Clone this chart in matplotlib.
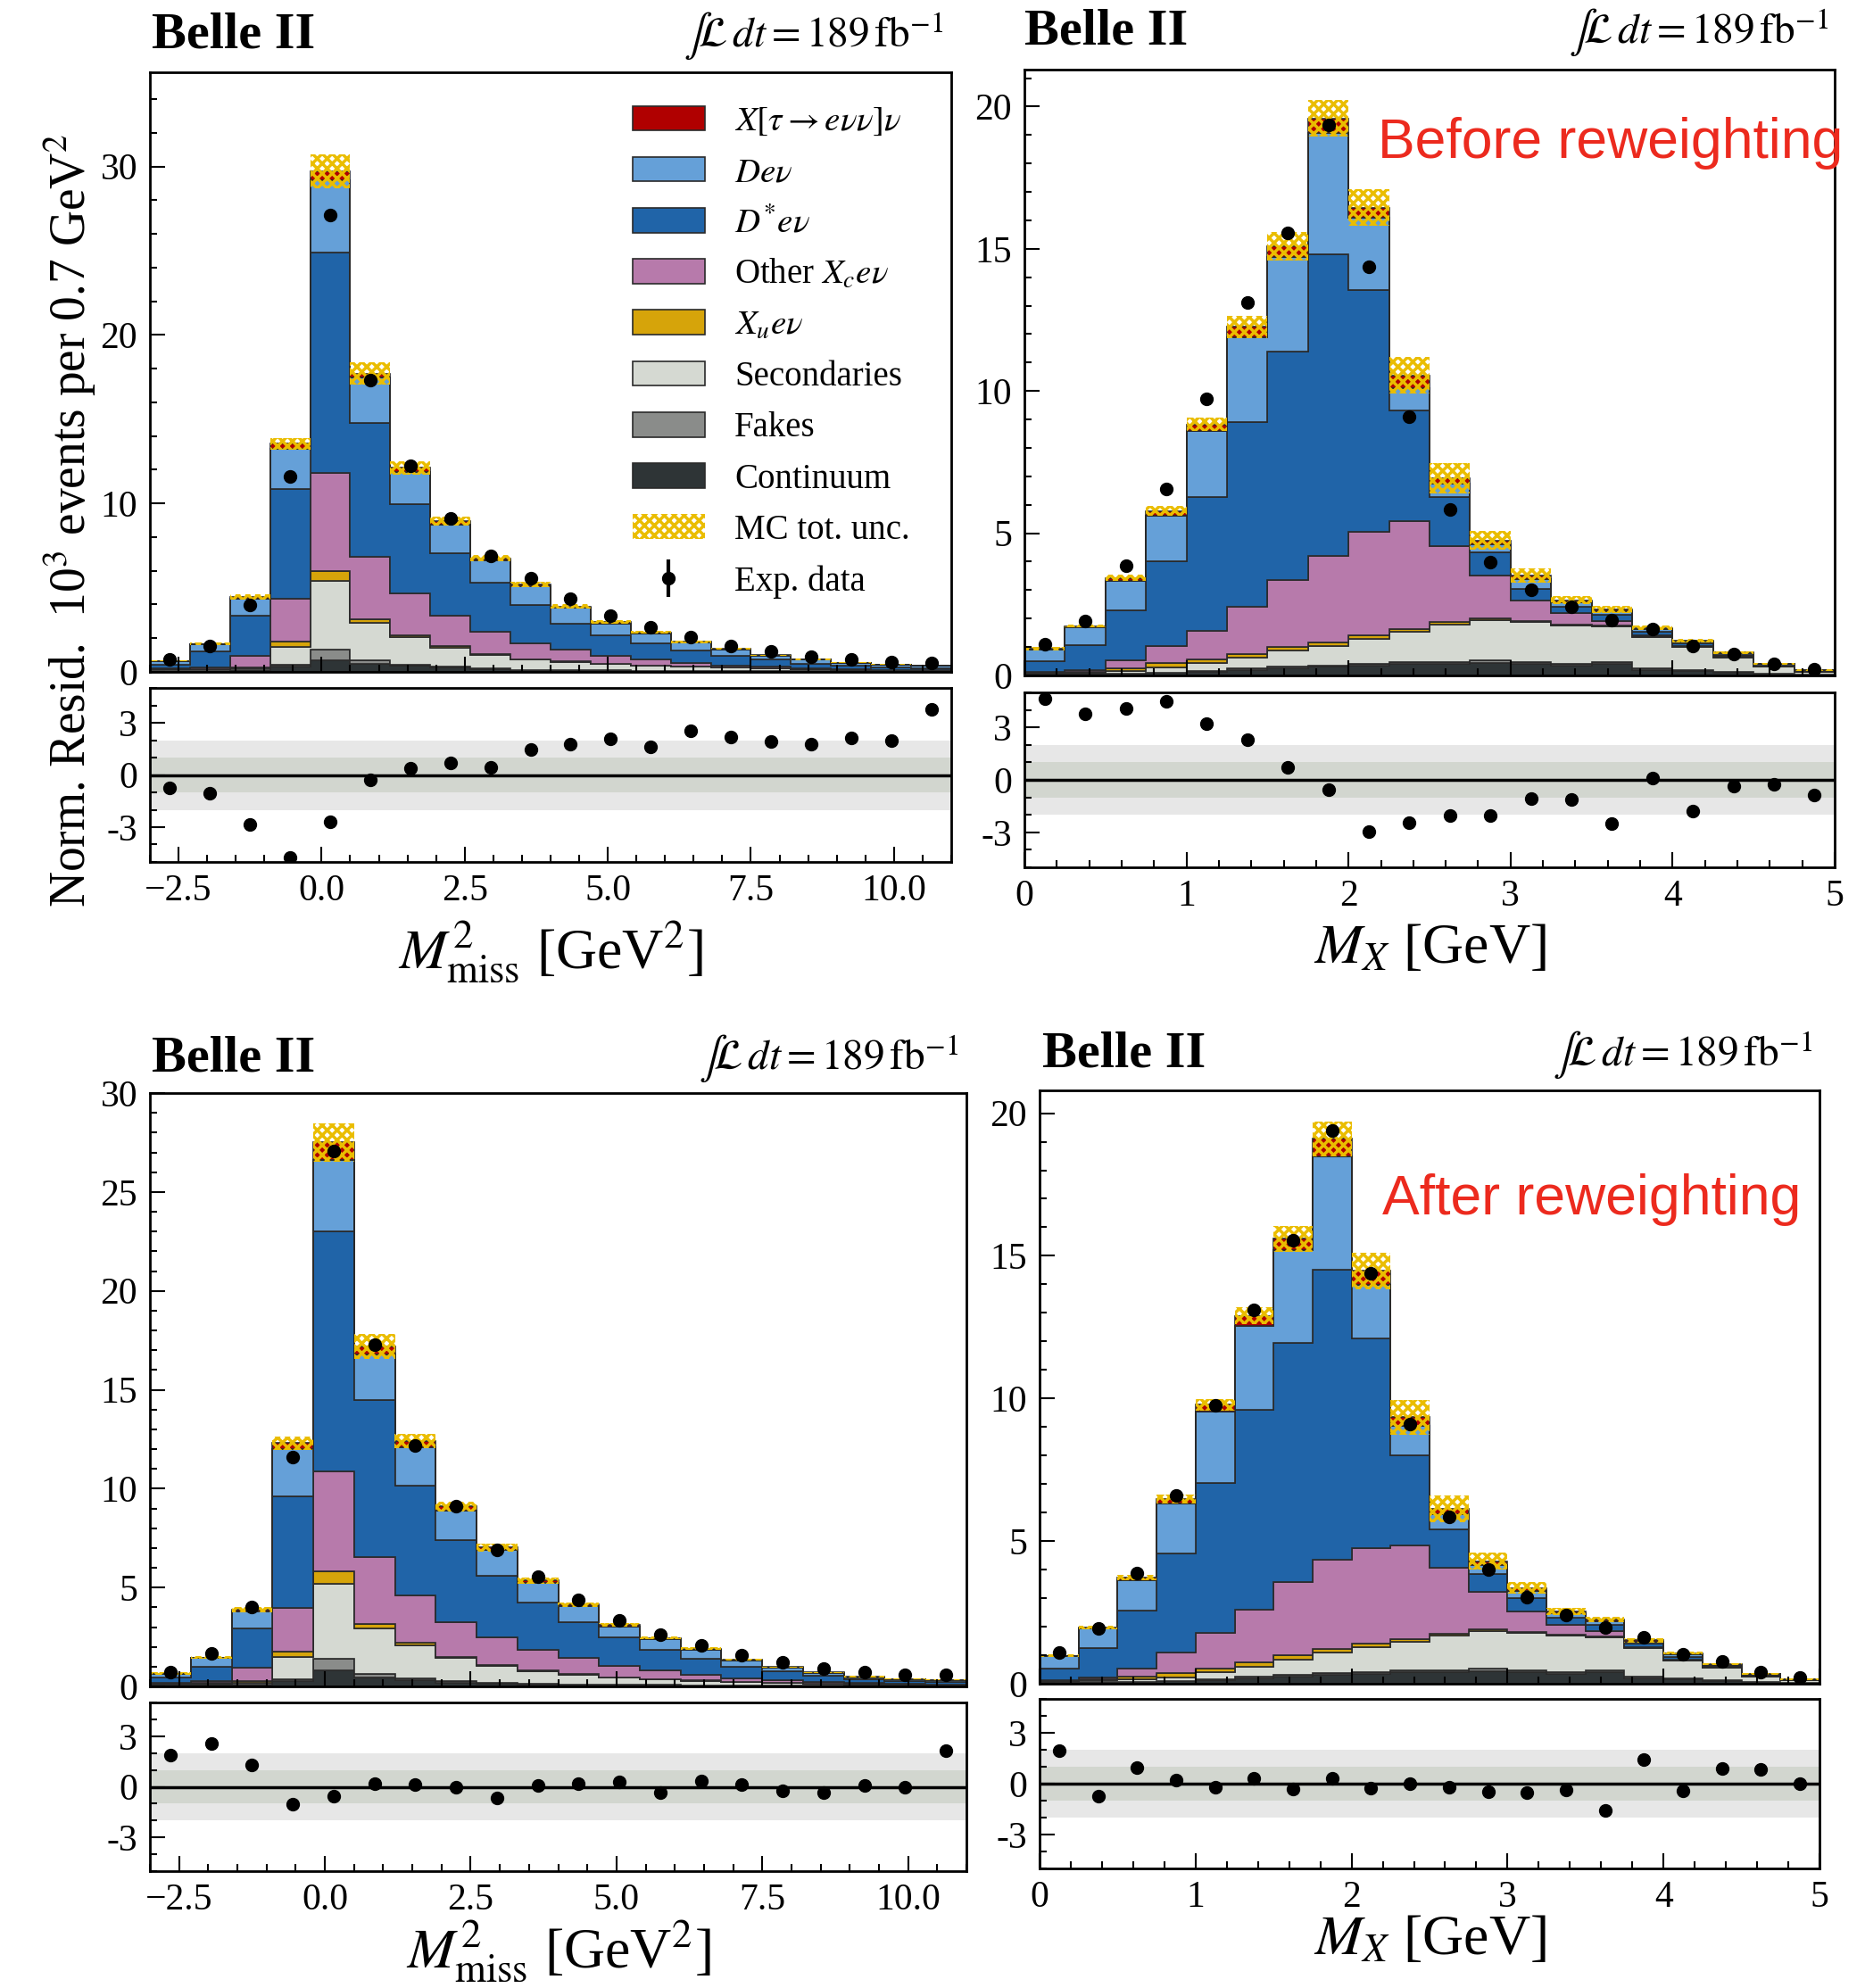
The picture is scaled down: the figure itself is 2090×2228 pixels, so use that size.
import numpy as np
import matplotlib
matplotlib.use("Agg")
import matplotlib.pyplot as plt
from matplotlib.patches import Patch
from matplotlib.lines import Line2D
from matplotlib.ticker import MultipleLocator, FixedLocator, FixedFormatter

plt.rcParams['font.family'] = ['Liberation Serif', 'DejaVu Serif']
plt.rcParams['mathtext.fontset'] = 'stix'
plt.rcParams['hatch.linewidth'] = 2.5

# binning
mm2_edges = np.round(np.linspace(-3.0, 11.0, 21), 2)
mx_edges = np.round(np.linspace(0.0, 5.0, 21), 2)

# ---- M2miss, before reweighting (10^3 events per bin)
cont_a = [0.05, 0.05, 0.05, 0.30, 0.70, 0.50, 0.35, 0.25, 0.15, 0.10, 0.08, 0.06, 0.05, 0.04, 0.03, 0.03, 0.02, 0.02, 0.02, 0.02]
fake_a = [0.02, 0.02, 0.03, 0.10, 0.60, 0.20, 0.10, 0.06, 0.04, 0.03, 0.02, 0.02, 0.02, 0.01, 0.01, 0.01, 0.01, 0.01, 0.01, 0.01]
sec_a = [0.08, 0.08, 0.12, 1.09, 4.10, 2.23, 1.59, 1.13, 0.81, 0.59, 0.50, 0.40, 0.29, 0.25, 0.20, 0.16, 0.12, 0.09, 0.07, 0.05]
xu_a = [0.02, 0.02, 0.05, 0.30, 0.60, 0.20, 0.12, 0.08, 0.05, 0.04, 0.03, 0.02, 0.02, 0.02, 0.01, 0.01, 0.01, 0.01, 0.01, 0.01]
oxc_a = [0.03, 0.07, 0.71, 2.53, 5.80, 3.70, 2.52, 1.84, 1.35, 0.92, 0.69, 0.46, 0.34, 0.21, 0.11, 0.09, 0.06, 0.04, 0.02, 0.01]
dst_a = [0.25, 0.96, 2.40, 6.54, 13.10, 7.97, 5.27, 3.71, 2.92, 2.28, 1.56, 1.20, 0.96, 0.72, 0.60, 0.42, 0.26, 0.19, 0.16, 0.12]
d_a = [0.20, 0.43, 1.00, 2.38, 4.30, 2.70, 1.92, 1.68, 1.28, 1.12, 0.91, 0.72, 0.60, 0.48, 0.36, 0.24, 0.24, 0.17, 0.14, 0.14]
tau_a = [0.01, 0.03, 0.10, 0.30, 0.50, 0.20, 0.25, 0.20, 0.15, 0.12, 0.10, 0.08, 0.06, 0.05, 0.04, 0.03, 0.02, 0.02, 0.01, 0.01]
unc_a = [0.05, 0.08, 0.15, 0.36, 1.00, 0.66, 0.40, 0.25, 0.20, 0.15, 0.12, 0.10, 0.08, 0.06, 0.05, 0.04, 0.03, 0.03, 0.02, 0.02]
data_a = [0.72, 1.56, 3.96, 11.58, 27.1, 17.3, 12.23, 9.10, 6.88, 5.56, 4.32, 3.36, 2.64, 2.04, 1.56, 1.20, 0.89, 0.72, 0.60, 0.53]
resid_a = [-0.73, -1.03, -2.85, -4.75, -2.68, -0.30, 0.37, 0.71, 0.46, 1.47, 1.76, 2.10, 1.63, 2.53, 2.20, 1.93, 1.76, 2.15, 1.98, 3.76]

# ---- M_X, before reweighting
cont_b = [0.05, 0.05, 0.06, 0.08, 0.12, 0.20, 0.25, 0.30, 0.35, 0.40, 0.40, 0.45, 0.40, 0.35, 0.40, 0.20, 0.15, 0.10, 0.05, 0.03]
fake_b = [0.01, 0.01, 0.01, 0.02, 0.03, 0.04, 0.05, 0.06, 0.07, 0.08, 0.08, 0.08, 0.08, 0.07, 0.07, 0.05, 0.04, 0.03, 0.02, 0.01]
sec_b = [0.04, 0.04, 0.08, 0.18, 0.28, 0.40, 0.58, 0.66, 0.86, 1.05, 1.32, 1.42, 1.39, 1.35, 1.26, 1.10, 0.80, 0.51, 0.24, 0.10]
xu_b = [0.02, 0.04, 0.11, 0.15, 0.14, 0.11, 0.11, 0.14, 0.14, 0.10, 0.08, 0.05, 0.03, 0.03, 0.02, 0.02, 0.01, 0.01, 0.01, 0.01]
oxc_b = [0.02, 0.06, 0.28, 0.59, 0.99, 1.66, 2.37, 3.05, 3.64, 3.80, 2.66, 1.50, 0.72, 0.40, 0.16, 0.05, 0.05, 0.03, 0.02, 0.01]
dst_b = [0.36, 0.86, 1.76, 2.98, 4.71, 6.49, 8.04, 10.59, 8.49, 3.89, 1.73, 0.83, 0.43, 0.21, 0.22, 0.11, 0.08, 0.04, 0.02, 0.01]
d_b = [0.42, 0.64, 1.03, 1.63, 2.31, 3.00, 3.30, 4.28, 2.55, 0.78, 0.47, 0.27, 0.35, 0.17, 0.14, 0.10, 0.07, 0.06, 0.04, 0.01]
tau_b = [0.02, 0.04, 0.10, 0.15, 0.25, 0.35, 0.40, 0.50, 0.35, 0.45, 0.20, 0.15, 0.10, 0.07, 0.06, 0.04, 0.03, 0.02, 0.01, 0.01]
unc_b = [0.05, 0.06, 0.10, 0.18, 0.25, 0.40, 0.50, 0.64, 0.64, 0.64, 0.53, 0.32, 0.25, 0.15, 0.12, 0.08, 0.06, 0.05, 0.03, 0.02]
data_b = [1.10, 1.91, 3.87, 6.57, 9.74, 13.10, 15.56, 19.36, 14.37, 9.10, 5.84, 3.97, 3.00, 2.41, 1.96, 1.63, 1.04, 0.75, 0.40, 0.21]
resid_b = [4.65, 3.76, 4.10, 4.49, 3.20, 2.28, 0.73, -0.54, -2.95, -2.43, -2.06, -2.06, -1.08, -1.13, -2.48, 0.08, -1.77, -0.34, -0.24, -0.88]

# ---- M2miss, after reweighting
cont_c = [0.05, 0.05, 0.05, 0.25, 0.83, 0.45, 0.30, 0.20, 0.15, 0.10, 0.08, 0.06, 0.05, 0.04, 0.03, 0.03, 0.02, 0.02, 0.02, 0.02]
fake_c = [0.02, 0.02, 0.03, 0.10, 0.56, 0.20, 0.10, 0.06, 0.04, 0.03, 0.02, 0.02, 0.02, 0.01, 0.01, 0.01, 0.01, 0.01, 0.01, 0.01]
sec_c = [0.08, 0.08, 0.12, 1.12, 3.78, 2.28, 1.67, 1.17, 0.86, 0.62, 0.48, 0.37, 0.28, 0.23, 0.18, 0.14, 0.11, 0.08, 0.06, 0.04]
xu_c = [0.02, 0.02, 0.05, 0.28, 0.64, 0.21, 0.12, 0.08, 0.05, 0.04, 0.03, 0.02, 0.02, 0.02, 0.01, 0.01, 0.01, 0.01, 0.01, 0.01]
oxc_c = [0.03, 0.09, 0.69, 2.20, 5.07, 3.42, 2.40, 1.74, 1.40, 1.07, 0.82, 0.58, 0.42, 0.28, 0.17, 0.11, 0.07, 0.05, 0.03, 0.02]
dst_c = [0.25, 0.74, 1.99, 5.67, 12.12, 7.94, 5.54, 4.16, 3.10, 2.39, 1.82, 1.45, 1.07, 0.81, 0.60, 0.45, 0.31, 0.19, 0.15, 0.12]
d_c = [0.19, 0.43, 0.85, 2.38, 3.60, 2.30, 1.97, 1.49, 1.28, 0.99, 0.79, 0.53, 0.53, 0.47, 0.32, 0.19, 0.15, 0.11, 0.08, 0.10]
tau_c = [0.01, 0.03, 0.10, 0.30, 0.90, 0.40, 0.30, 0.20, 0.15, 0.12, 0.10, 0.08, 0.06, 0.05, 0.04, 0.03, 0.02, 0.02, 0.01, 0.01]
unc_c = [0.05, 0.08, 0.15, 0.35, 0.96, 0.64, 0.35, 0.25, 0.20, 0.15, 0.12, 0.10, 0.08, 0.06, 0.05, 0.04, 0.03, 0.03, 0.02, 0.02]
data_c = [0.73, 1.65, 4.00, 11.58, 27.07, 17.30, 12.18, 9.12, 6.88, 5.56, 4.36, 3.35, 2.60, 2.07, 1.60, 1.22, 0.90, 0.73, 0.58, 0.58]
resid_c = [1.90, 2.56, 1.29, -1.04, -0.54, 0.16, 0.12, -0.05, -0.66, 0.07, 0.17, 0.30, -0.35, 0.37, 0.12, -0.26, -0.35, 0.07, -0.05, 2.16]

# ---- M_X, after reweighting
cont_d = [0.05, 0.05, 0.06, 0.08, 0.12, 0.20, 0.25, 0.30, 0.35, 0.40, 0.40, 0.45, 0.40, 0.35, 0.40, 0.20, 0.15, 0.10, 0.05, 0.03]
fake_d = [0.01, 0.01, 0.01, 0.02, 0.03, 0.04, 0.05, 0.06, 0.07, 0.08, 0.08, 0.08, 0.08, 0.07, 0.07, 0.05, 0.04, 0.03, 0.02, 0.01]
sec_d = [0.04, 0.06, 0.08, 0.12, 0.25, 0.35, 0.54, 0.75, 0.87, 1.00, 1.22, 1.32, 1.30, 1.28, 1.16, 1.01, 0.62, 0.42, 0.18, 0.08]
xu_d = [0.02, 0.04, 0.10, 0.15, 0.12, 0.15, 0.15, 0.12, 0.12, 0.08, 0.06, 0.05, 0.03, 0.03, 0.02, 0.02, 0.01, 0.01, 0.01, 0.01]
oxc_d = [0.02, 0.06, 0.27, 0.71, 1.26, 1.85, 2.57, 3.11, 3.33, 3.28, 2.31, 1.31, 0.71, 0.34, 0.20, 0.01, 0.02, 0.02, 0.01, 0.00]
dst_d = [0.38, 1.04, 2.03, 3.48, 5.26, 7.00, 8.40, 10.16, 7.36, 3.16, 1.33, 0.64, 0.48, 0.23, 0.22, 0.12, 0.11, 0.04, 0.03, 0.01]
d_d = [0.44, 0.67, 1.08, 1.77, 2.49, 2.96, 3.24, 4.00, 1.87, 1.04, 0.53, 0.30, 0.26, 0.17, 0.12, 0.07, 0.09, 0.05, 0.03, 0.01]
tau_d = [0.02, 0.04, 0.10, 0.15, 0.25, 0.35, 0.40, 0.60, 0.50, 0.30, 0.20, 0.15, 0.10, 0.07, 0.06, 0.04, 0.03, 0.02, 0.01, 0.01]
unc_d = [0.05, 0.06, 0.10, 0.15, 0.20, 0.30, 0.45, 0.60, 0.63, 0.60, 0.48, 0.30, 0.20, 0.12, 0.10, 0.07, 0.05, 0.04, 0.03, 0.02]
data_d = [1.10, 1.93, 3.88, 6.59, 9.75, 13.10, 15.56, 19.40, 14.40, 9.11, 5.85, 4.00, 3.04, 2.41, 1.96, 1.63, 1.04, 0.79, 0.40, 0.22]
resid_d = [1.97, -0.75, 0.96, 0.23, -0.23, 0.30, -0.30, 0.31, -0.26, 0.00, -0.23, -0.49, -0.54, -0.38, -1.57, 1.40, -0.44, 0.91, 0.84, 0.00]

# stacking order bottom -> top
stack_colors = ['#2e3436', '#8a8c8a', '#d5d9d2', '#d6a40a', '#b77aab', '#2064a8', '#65a0d8', '#b00000']
hatch_col = '#eabd00'

W, H = 2090, 2228
fig = plt.figure(figsize=(W / 100, H / 100), dpi=100)


def frac(l, t, r, b):
    return [l / W, 1 - b / H, (r - l) / W, (b - t) / H]


def style(ax, xmaj, xmin, ymaj, ymin):
    ax.xaxis.set_major_locator(MultipleLocator(xmaj))
    ax.xaxis.set_minor_locator(MultipleLocator(xmin))
    ax.yaxis.set_major_locator(MultipleLocator(ymaj))
    ax.yaxis.set_minor_locator(MultipleLocator(ymin))
    ax.tick_params(which='both', direction='in', top=False, right=False, labelsize=30, width=1.5)
    ax.tick_params(which='major', length=12, pad=10)
    ax.tick_params(which='minor', length=6)
    for s in ax.spines.values():
        s.set_linewidth(2)


def panel(box_main, box_res, edges, layers, unc, data, resid, ymax, ymaj, ymin,
          xmaj, xmin, xlabel, lpad=8):
    ax = fig.add_axes(frac(*box_main))
    axr = fig.add_axes(frac(*box_res))
    edges = np.asarray(edges)
    base = np.zeros(len(edges) - 1)
    for vals, col in zip(layers, stack_colors):
        top = base + np.asarray(vals)
        ax.stairs(top, edges, baseline=base, fill=True, facecolor=col,
                  edgecolor='#2a2a2a', linewidth=1.2)
        base = top
    widths = np.diff(edges)
    centers = edges[:-1] + widths / 2
    unc = np.asarray(unc)
    ax.bar(centers, 2 * unc, bottom=base - unc, width=widths, fill=False,
           hatch='xxx', edgecolor=hatch_col, linewidth=0)
    ax.plot(centers, data, 'o', color='k', ms=10, zorder=5)
    ax.set_xlim(edges[0], edges[-1])
    ax.set_ylim(0, ymax)
    style(ax, xmaj, xmin, ymaj, ymin)
    ax.tick_params(labelbottom=False)

    axr.axhspan(-2, 2, color='#e7e7e7', lw=0)
    axr.axhspan(-1, 1, color='#d2d6cf', lw=0)
    axr.axhline(0, color='k', lw=2.5)
    axr.plot(centers, resid, 'o', color='k', ms=10, zorder=5)
    axr.set_xlim(edges[0], edges[-1])
    axr.set_ylim(-5, 5)
    style(axr, xmaj, xmin, 3, 1)
    axr.yaxis.set_major_locator(FixedLocator([-3, 0, 3]))
    axr.yaxis.set_major_formatter(FixedFormatter(['-3', '0', '3']))
    axr.set_xlabel(xlabel, fontsize=46, labelpad=lpad)
    return ax, axr


mm2_label = r'$M^2_{\rm miss}$ [GeV$^2$]'
mx_label = r'$M_X$ [GeV]'

axA, _ = panel((168, 81, 1066, 753), (168, 771, 1066, 966), mm2_edges,
               [cont_a, fake_a, sec_a, xu_a, oxc_a, dst_a, d_a, tau_a],
               unc_a, data_a, resid_a, 35.6, 10, 2, 2.5, 0.5, mm2_label)
panel((1148, 78, 2056, 757), (1148, 776, 2056, 972), mx_edges,
      [cont_b, fake_b, sec_b, xu_b, oxc_b, dst_b, d_b, tau_b],
      unc_b, data_b, resid_b, 21.3, 5, 1, 1, 0.2, mx_label)
panel((168, 1225, 1083, 1890), (168, 1908, 1083, 2097), mm2_edges,
      [cont_c, fake_c, sec_c, xu_c, oxc_c, dst_c, d_c, tau_c],
      unc_c, data_c, resid_c, 30, 5, 1, 2.5, 0.5, mm2_label, lpad=0)
panel((1165, 1222, 2039, 1887), (1165, 1904, 2039, 2094), mx_edges,
      [cont_d, fake_d, sec_d, xu_d, oxc_d, dst_d, d_d, tau_d],
      unc_d, data_d, resid_d, 20.8, 5, 1, 1, 0.2, mx_label, lpad=0)

# legend
leg_labels = [r'$X[\tau\rightarrow e\nu\nu]\nu$', r'$De\nu$', r'$D^{*}e\nu$', r'Other $X_c e\nu$',
              r'$X_u e\nu$', 'Secondaries', 'Fakes', 'Continuum', 'MC tot. unc.', 'Exp. data']
handles = [Patch(facecolor=c, edgecolor='#2a2a2a', lw=1.2) for c in stack_colors[::-1]]
handles.append(Patch(fill=False, hatch='xxx', edgecolor=hatch_col, lw=0))
handles.append((Line2D([], [], marker='o', color='k', ls='none', ms=10),
                Line2D([], [], marker='|', color='k', ls='none', ms=30, mew=3)))
axA.legend(handles, leg_labels, loc='upper left', bbox_to_anchor=(0.602, 0.945),
           frameon=False, fontsize=28, handlelength=2.1, handleheight=0.72,
           labelspacing=0.52, handletextpad=0.85, borderpad=0, borderaxespad=0)

# headers
lumi = r'$\int\!\mathcal{L}\,dt = 189\,\mathrm{fb}^{-1}$'
for x, y in [(170, 40), (1148, 36), (170, 1186), (1168, 1182)]:
    fig.text(x / W, 1 - y / H, 'Belle II', fontsize=42, fontweight='bold', va='center', ha='left')
for x, y in [(1058, 40), (2050, 36), (1075, 1186), (2032, 1182)]:
    fig.text(x / W, 1 - y / H, lumi, fontsize=34, va='center', ha='right')

fig.text(78 / W, 1 - 583 / H, r'Norm. Resid.  10$^3$ events per 0.7 GeV$^2$',
         rotation=90, fontsize=40, va='center', ha='center')

fig.text(1544 / W, 1 - 161 / H, 'Before reweighting', fontsize=45, color='#ec2a1e',
         family='Liberation Sans', va='center', ha='left')
fig.text(1549 / W, 1 - 1345 / H, 'After reweighting', fontsize=45, color='#ec2a1e',
         family='Liberation Sans', va='center', ha='left')

fig.savefig('out.png', dpi=100)
